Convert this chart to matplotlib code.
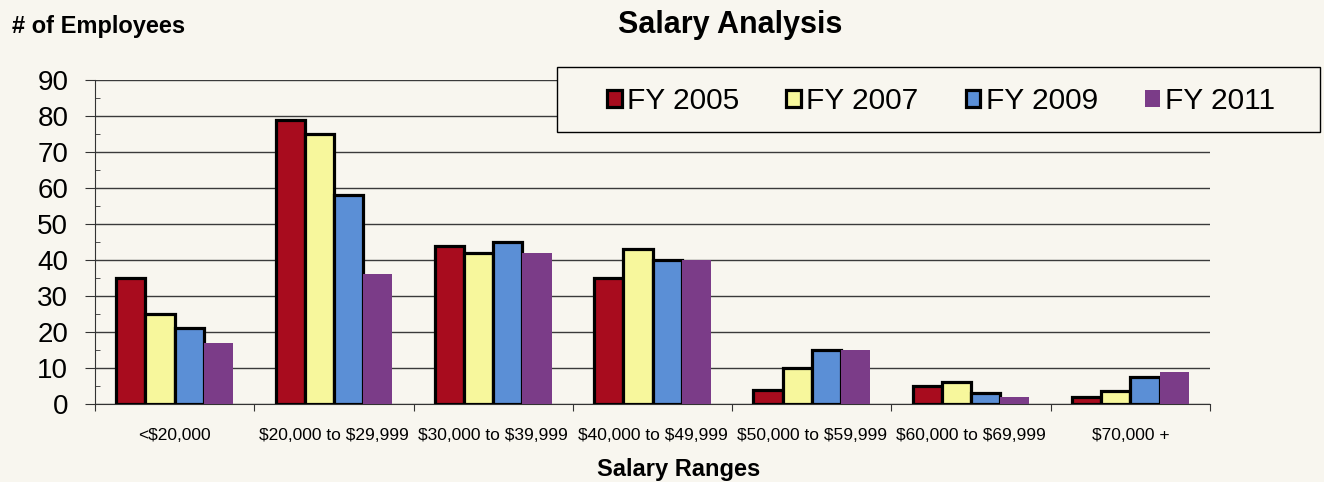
import matplotlib
matplotlib.use("Agg")
import matplotlib.pyplot as plt
import numpy as np
from matplotlib.ticker import MultipleLocator
from matplotlib.patches import Rectangle

plt.rcParams['font.family'] = ['Liberation Sans', 'DejaVu Sans']

categories = ["<\\$20,000", "\\$20,000 to \\$29,999", "\\$30,000 to \\$39,999", "\\$40,000 to \\$49,999",
              "\\$50,000 to \\$59,999", "\\$60,000 to \\$69,999", "\\$70,000 +"]
series_names = ["FY 2005", "FY 2007", "FY 2009", "FY 2011"]
fy2005 = [35, 79, 44, 35, 4, 5, 2]
fy2007 = [25, 75, 42, 43, 10, 6, 3.5]
fy2009 = [21, 58, 45, 40, 15, 3, 7.5]
fy2011 = [17, 36, 42, 40, 15, 2, 9]
series = [fy2005, fy2007, fy2009, fy2011]
colors = ["#a80c1e", "#f7f79c", "#5b8fd6", "#7b3c88"]
edges = ["black", "black", "black", "none"]

W, H = 1324, 482
bg = "#f8f6ef"
fig = plt.figure(figsize=(W/100, H/100), dpi=100, facecolor=bg)
ax = fig.add_axes([95/W, 1-404/H, (1210-95)/W, (404-80)/H])
ax.set_facecolor(bg)

x = np.arange(len(categories))
bw = 0.183
handles = []
for i, (vals, c, e) in enumerate(zip(series, colors, edges)):
    b = ax.bar(x + (i - 1.5) * bw, vals, bw, color=c, edgecolor=e,
               linewidth=2.3 if e != "none" else 0, label=series_names[i], zorder=3)
    handles.append(b)

ax.set_xlim(-0.5, len(categories) - 0.5)
ax.set_ylim(0, 90)
ax.yaxis.set_major_locator(MultipleLocator(10))
ax.yaxis.set_minor_locator(MultipleLocator(5))
ax.grid(axis='y', which='major', color='#3a3a3a', linewidth=1.0, zorder=0)
for s in ['top', 'right']:
    ax.spines[s].set_visible(False)
ax.spines['left'].set_color('#333333')
ax.spines['bottom'].set_color('#333333')
ax.tick_params(axis='y', which='major', direction='out', length=7.2, labelsize=20, pad=12, color='#333333')
ax.tick_params(axis='y', which='minor', direction='in', length=3.6, color='#333333')

ax.set_xticks(np.arange(-0.5, len(categories), 1))
ax.set_xticklabels([])
ax.set_xticks(x, minor=True)
ax.set_xticklabels(categories, minor=True)
ax.tick_params(axis='x', which='major', direction='out', length=5, color='#333333')
ax.tick_params(axis='x', which='minor', length=0, pad=17, labelsize=12.5)

fig.text(12/W, 1-33/H, "# of Employees", fontsize=17, fontweight='bold', va='baseline', ha='left')
fig.text(730/W, 1-33/H, "Salary Analysis", fontsize=22, fontweight='bold', va='baseline', ha='center')
fig.text(679/W, 1-476/H, "Salary Ranges", fontsize=17, fontweight='bold', va='baseline', ha='center')

# legend frame
box = Rectangle((557/W, 1-132/H), (1320-557)/W, (132-67)/H, transform=fig.transFigure,
                facecolor=bg, edgecolor='black', linewidth=1.0, zorder=4)
fig.patches.append(box)
leg = fig.legend(handles, series_names, ncol=4, loc='center', bbox_to_anchor=(941/W, 1-101/H),
                 frameon=False, fontsize=21.5, handlelength=0.5, handleheight=0.5,
                 handletextpad=0.17, columnspacing=1.57, borderpad=0, borderaxespad=0)
leg.set_zorder(6)

fig.savefig("out.png", dpi=100, facecolor=bg)
